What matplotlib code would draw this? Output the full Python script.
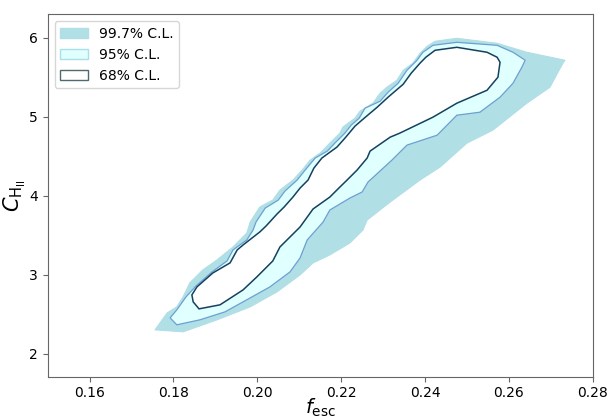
import matplotlib
matplotlib.use("Agg")
import matplotlib.pyplot as plt
from matplotlib.patches import Patch

# confidence regions in the (f_esc, C_HII) plane, traced as closed outlines
cl997_f = [0.1756, 0.1823, 0.1904, 0.1983, 0.2047, 0.2102, 0.2133, 0.2173, 0.2221, 0.2252,
           0.2262, 0.2317, 0.2388, 0.2436, 0.2500, 0.2562, 0.2643, 0.2698, 0.2729, 0.2734,
           0.2643, 0.2572, 0.2476, 0.2424, 0.2405, 0.2388, 0.2371, 0.2348, 0.2333, 0.2309,
           0.2293, 0.2276, 0.2245, 0.2233, 0.2204, 0.2197, 0.2173, 0.2150, 0.2126, 0.2107,
           0.2085, 0.2054, 0.2037, 0.2006, 0.1983, 0.1975, 0.1942, 0.1904, 0.1870, 0.1839,
           0.1823, 0.1808, 0.1785]
cl997_c = [2.303, 2.278, 2.430, 2.594, 2.784, 2.999, 3.151, 3.252, 3.404, 3.568,
           3.694, 3.922, 4.200, 4.365, 4.668, 4.833, 5.174, 5.376, 5.680, 5.718,
           5.819, 5.933, 5.996, 5.958, 5.895, 5.806, 5.680, 5.591, 5.465, 5.376,
           5.301, 5.174, 5.073, 4.984, 4.871, 4.795, 4.668, 4.542, 4.453, 4.327,
           4.200, 4.074, 3.947, 3.859, 3.669, 3.530, 3.353, 3.189, 3.062, 2.898,
           2.721, 2.594, 2.518]

cl95_f = [0.1792, 0.1808, 0.1863, 0.1923, 0.1983, 0.2030, 0.2078, 0.2102, 0.2119, 0.2157,
          0.2173, 0.2221, 0.2250, 0.2264, 0.2321, 0.2357, 0.2429, 0.2476, 0.2531, 0.2579,
          0.2610, 0.2631, 0.2639, 0.2610, 0.2572, 0.2476, 0.2419, 0.2395, 0.2381, 0.2357,
          0.2336, 0.2312, 0.2293, 0.2257, 0.2243, 0.2224, 0.2209, 0.2185, 0.2167, 0.2138,
          0.2116, 0.2095, 0.2066, 0.2050, 0.2019, 0.1997, 0.1990, 0.1975, 0.1942, 0.1928,
          0.1892, 0.1854, 0.1830, 0.1808]
cl95_c = [2.455, 2.367, 2.430, 2.531, 2.708, 2.847, 3.037, 3.214, 3.442, 3.669,
          3.821, 3.973, 4.049, 4.175, 4.453, 4.643, 4.769, 5.022, 5.060, 5.250,
          5.427, 5.629, 5.718, 5.819, 5.907, 5.945, 5.907, 5.819, 5.718, 5.591,
          5.427, 5.313, 5.199, 5.111, 4.984, 4.896, 4.795, 4.668, 4.567, 4.479,
          4.339, 4.200, 4.061, 3.947, 3.846, 3.669, 3.568, 3.442, 3.315, 3.176,
          3.037, 2.860, 2.721, 2.556]

cl68_f = [0.1847, 0.1861, 0.1911, 0.1966, 0.1999, 0.2037, 0.2054, 0.2102, 0.2133, 0.2173,
          0.2197, 0.2214, 0.2238, 0.2262, 0.2269, 0.2317, 0.2340, 0.2419, 0.2476, 0.2548,
          0.2574, 0.2579, 0.2572, 0.2548, 0.2476, 0.2424, 0.2402, 0.2388, 0.2367, 0.2348,
          0.2312, 0.2286, 0.2255, 0.2233, 0.2209, 0.2190, 0.2154, 0.2135, 0.2121, 0.2102,
          0.2085, 0.2064, 0.2047, 0.2021, 0.2006, 0.1966, 0.1952, 0.1935, 0.1894, 0.1856,
          0.1844]
cl68_c = [2.658, 2.569, 2.620, 2.809, 2.974, 3.176, 3.353, 3.606, 3.834, 3.985,
          4.112, 4.200, 4.327, 4.479, 4.567, 4.744, 4.795, 4.997, 5.174, 5.338,
          5.503, 5.692, 5.756, 5.819, 5.882, 5.844, 5.756, 5.680, 5.553, 5.414,
          5.250, 5.123, 4.984, 4.883, 4.731, 4.618, 4.479, 4.352, 4.200, 4.099,
          3.985, 3.859, 3.770, 3.619, 3.543, 3.378, 3.315, 3.151, 3.024, 2.847,
          2.746]

labels = ["99.7% C.L.", "95% C.L.", "68% C.L."]

c_997 = "#b0dfe5"
c_95 = "#e0ffff"
c_95_edge = "#6d9fd2"
c_68_edge = "#15415e"

fig = plt.figure(figsize=(6.09, 4.19), dpi=100)
ax = fig.add_axes([0.0783, 0.1010, 0.8949, 0.8649])

ax.fill(cl997_f, cl997_c, facecolor=c_997, edgecolor=c_997, lw=0.8, zorder=1)
ax.fill(cl95_f, cl95_c, facecolor=c_95, edgecolor=c_95_edge, lw=0.9, zorder=2)
ax.fill(cl68_f, cl68_c, facecolor="white", edgecolor=c_68_edge, lw=1.1, zorder=3)

ax.set_xlim(0.15, 0.28)
ax.set_ylim(1.71, 6.3)
ax.set_xticks([0.16, 0.18, 0.20, 0.22, 0.24, 0.26, 0.28])
ax.set_xticklabels(["0.16", "0.18", "0.20", "0.22", "0.24", "0.26", "0.28"])
ax.set_yticks([2, 3, 4, 5, 6])

for s in ax.spines.values():
    s.set_color("0.4")
ax.tick_params(colors="0.4", labelcolor="black", labelsize=10, length=3.5)

ax.set_xlabel(r"$f_{\rm esc}$", fontsize=14)
ax.set_ylabel(r"$C_{\rm H_{II}}$", fontsize=15)
ax.xaxis.set_label_coords(0.5, -0.056)
ax.yaxis.set_label_coords(-0.037, 0.5)

handles = [Patch(facecolor=c_997, edgecolor=c_997),
           Patch(facecolor=c_95, edgecolor="#a9dfe6"),
           Patch(facecolor="white", edgecolor="#4e6a70")]
ax.legend(handles, labels, loc="upper left", fontsize=10)

fig.savefig("out.png", dpi=100)
